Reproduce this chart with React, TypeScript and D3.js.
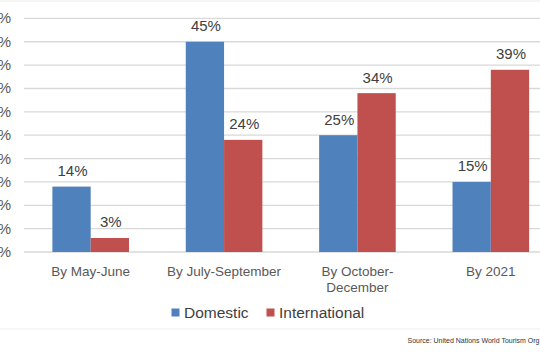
import React from "react";
import * as d3 from "d3";

const categories: string[][] = [
  ["By May-June"],
  ["By July-September"],
  ["By October-", "December"],
  ["By 2021"],
];
const domestic = [14, 45, 25, 15];
const international = [3, 24, 34, 39];
const seriesNames = ["Domestic", "International"];
const yTicks = [0, 5, 10, 15, 20, 25, 30, 35, 40, 45, 50];
const sourceText = "Source: United Nations World Tourism Org";

const W = 540;
const H = 360;
const colors = ["#4F81BD", "#C0504D"];
const font = "Liberation Sans, Arial, sans-serif";

export default function App() {
  const x = d3
    .scaleBand<number>()
    .domain(d3.range(categories.length))
    .range([24, 557.5])
    .paddingInner(0)
    .paddingOuter(0);
  const y = d3.scaleLinear().domain([0, 50]).range([252, 18.4]);
  const barW = 38.3;
  const series = [domestic, international];

  return (
    <svg
      width={W}
      height={H}
      style={{ position: "absolute", left: 0, top: 0, background: "#fff" }}
      fontFamily={font}
    >
      <line x1={0} x2={W} y1={1} y2={1} stroke="#ececec" strokeWidth={1} />
      {yTicks.map((t) => (
        <g key={t}>
          <line
            x1={24}
            x2={W}
            y1={y(t)}
            y2={y(t)}
            stroke="#d9d9d9"
            strokeWidth={1.3}
          />
          <text
            x={11}
            y={y(t) + 5}
            textAnchor="end"
            fontSize={15}
            fill="#595959"
          >
            {t}%
          </text>
        </g>
      ))}
      {categories.map((c, i) => {
        const cx = (x(i) as number) + x.bandwidth() / 2;
        return (
          <g key={i}>
            {series.map((s, j) => {
              const bx = cx - barW + j * barW;
              return (
                <g key={j}>
                  <rect
                    x={bx}
                    y={y(s[i])}
                    width={barW}
                    height={y(0) - y(s[i])}
                    fill={colors[j]}
                  />
                  <text
                    x={bx + barW / 2 + 1}
                    y={y(s[i]) - 10.5}
                    textAnchor="middle"
                    fontSize={15}
                    fill="#404040"
                  >
                    {s[i]}%
                  </text>
                </g>
              );
            })}
            {c.map((line, k) => (
              <text
                key={k}
                x={cx}
                y={275.5 + k * 16}
                textAnchor="middle"
                fontSize={13.5}
                fill="#595959"
              >
                {line}
              </text>
            ))}
          </g>
        );
      })}
      {seriesNames.map((n, j) => {
        const lx = [171.5, 266.5][j];
        return (
          <g key={n}>
            <rect x={lx} y={308.5} width={8} height={8} fill={colors[j]} />
            <text x={lx + 12.5} y={318} fontSize={15.5} fill="#404040">
              {n}
            </text>
          </g>
        );
      })}
      <line x1={0} x2={W} y1={329} y2={329} stroke="#efefef" strokeWidth={1} />
      <text
        x={539.5}
        y={342.5}
        textAnchor="end"
        fontSize={7}
        fill="#333"
      >
        {sourceText}
      </text>
    </svg>
  );
}
